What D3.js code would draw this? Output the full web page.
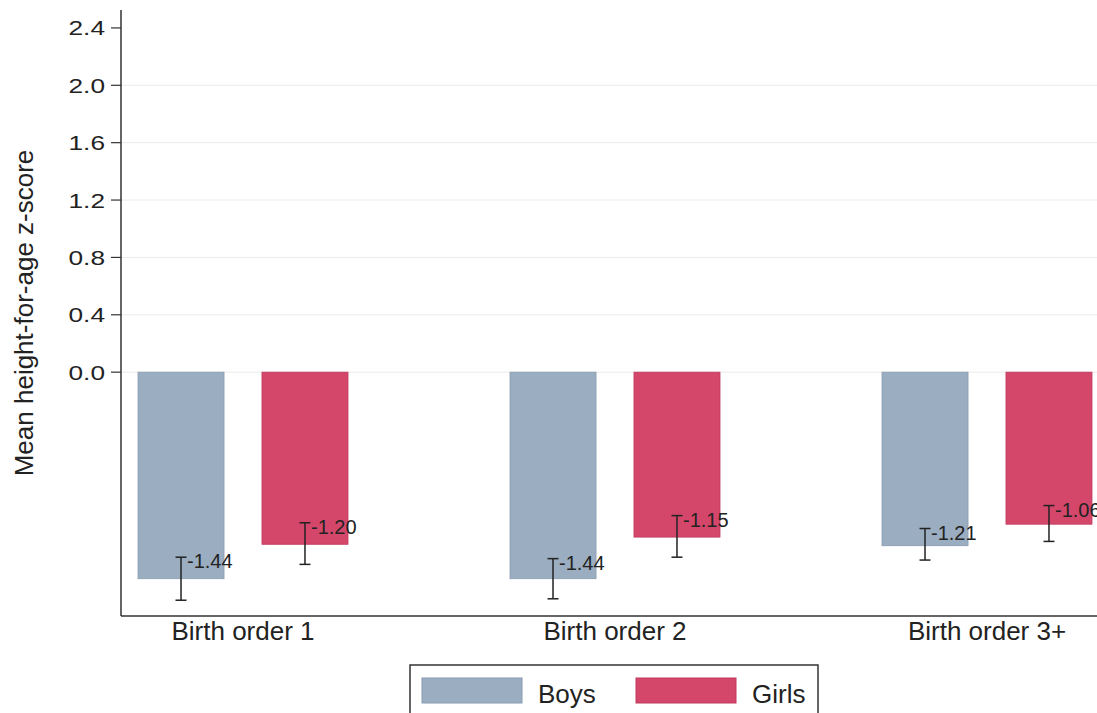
<!DOCTYPE html>
<html>
<head>
<meta charset="utf-8">
<script src="https://cdn.jsdelivr.net/npm/d3@7"></script>
<style>
  body { margin: 0; background: #fff; }
  text { font-family: "Liberation Sans", Arial, Helvetica, sans-serif; fill: #222; }
</style>
</head>
<body>
<svg></svg>
<script>
const width = 1097;
const height = 713;

const categories = ["Birth order 1", "Birth order 2", "Birth order 3+"];
const groups = ["Boys", "Girls"];
const boysMean = [-1.44, -1.44, -1.21];
const girlsMean = [-1.20, -1.15, -1.06];
const boysHi = [-1.29, -1.30, -1.09];
const boysLo = [-1.59, -1.58, -1.31];
const girlsHi = [-1.05, -1.00, -0.93];
const girlsLo = [-1.34, -1.29, -1.18];
const yTicks = [0, 0.4, 0.8, 1.2, 1.6, 2.0, 2.4];
const gridTicks = [0, 0.4, 0.8, 1.2, 1.6, 2.0];

const colors = { Boys: "#9badc0", Girls: "#d4476b" };
const strokes = { Boys: "#8a9cb0", Girls: "#c03a5c" };

const rows = [];
categories.forEach((c, i) => {
  rows.push({ cat: c, group: "Boys", mean: boysMean[i], hi: boysHi[i], lo: boysLo[i] });
  rows.push({ cat: c, group: "Girls", mean: girlsMean[i], hi: girlsHi[i], lo: girlsLo[i] });
});

const svg = d3.select('svg')
  .attr('width', width)
  .attr('height', height)

const axisX = 121;
const y = d3.scaleLinear().domain([-1.70, 2.525]).range([616, 10]);
const x0 = d3.scaleBand().domain(categories).range([57, 1173]);
const x1 = d3.scaleBand().domain(groups).range([81, 291]).paddingInner(0.306);

// grid
svg.append('g')
  .selectAll('line')
  .data(gridTicks)
  .join('line')
    .attr('x1', axisX).attr('x2', width)
    .attr('y1', d => y(d)).attr('y2', d => y(d))
    .attr('stroke', '#ebebeb')
    .attr('stroke-width', 1)

// bars
svg.append('g')
  .selectAll('rect')
  .data(rows)
  .join('rect')
    .attr('x', d => x0(d.cat) + x1(d.group))
    .attr('width', x1.bandwidth())
    .attr('y', y(0))
    .attr('height', d => y(d.mean) - y(0))
    .attr('fill', d => colors[d.group])
    .attr('stroke', d => strokes[d.group])
    .attr('stroke-width', 0.8)

// error bars
const cx = d => x0(d.cat) + x1(d.group) + x1.bandwidth() / 2;
const eb = svg.append('g')
  .attr('stroke', '#222')
  .attr('stroke-width', 1.5)
  .selectAll('g')
  .data(rows)
  .join('g')
eb.append('line')
  .attr('x1', cx).attr('x2', cx)
  .attr('y1', d => y(d.hi)).attr('y2', d => y(d.lo))
eb.append('line')
  .attr('x1', d => cx(d) - 5.5).attr('x2', d => cx(d) + 5.5)
  .attr('y1', d => y(d.hi)).attr('y2', d => y(d.hi))
eb.append('line')
  .attr('x1', d => cx(d) - 5.5).attr('x2', d => cx(d) + 5.5)
  .attr('y1', d => y(d.lo)).attr('y2', d => y(d.lo))

// value labels
svg.append('g')
  .selectAll('text')
  .data(rows)
  .join('text')
    .attr('x', d => cx(d) + 6)
    .attr('y', d => y(d.hi) + 11)
    .attr('font-size', 20)
    .text(d => d.mean.toFixed(2))

// axes lines
svg.append('line')
  .attr('x1', axisX).attr('x2', axisX)
  .attr('y1', 10).attr('y2', 616)
  .attr('stroke', '#333').attr('stroke-width', 1.5)
svg.append('line')
  .attr('x1', axisX).attr('x2', width)
  .attr('y1', 616).attr('y2', 616)
  .attr('stroke', '#333').attr('stroke-width', 1.5)

// y ticks
const yt = svg.append('g')
  .selectAll('g')
  .data(yTicks)
  .join('g')
    .attr('transform', d => `translate(0,${y(d)})`)
yt.append('line')
  .attr('x1', 111).attr('x2', axisX)
  .attr('stroke', '#333').attr('stroke-width', 1.2)
yt.append('text')
  .attr('transform', 'translate(105,7.5) scale(1.25,1)')
  .attr('text-anchor', 'end')
  .attr('font-size', 21)
  .text(d => d.toFixed(1))

// y title
svg.append('text')
  .attr('transform', 'translate(33,313) rotate(-90)')
  .attr('text-anchor', 'middle')
  .attr('font-size', 26)
  .text('Mean height-for-age z-score')

// category labels
svg.append('g')
  .selectAll('text')
  .data(categories)
  .join('text')
    .attr('x', d => x0(d) + x0.bandwidth() / 2)
    .attr('y', 640)
    .attr('text-anchor', 'middle')
    .attr('font-size', 26)
    .text(d => d)

// legend
const legend = svg.append('g').attr('transform', 'translate(410,665)')
legend.append('rect')
  .attr('width', 408).attr('height', 70)
  .attr('fill', '#fff')
  .attr('stroke', '#333').attr('stroke-width', 1.5)
const item = legend.selectAll('g')
  .data(groups)
  .join('g')
    .attr('transform', (d, i) => `translate(${12 + i * 214},13)`)
item.append('rect')
  .attr('width', 100).attr('height', 25)
  .attr('fill', d => colors[d])
  .attr('stroke', d => strokes[d])
item.append('text')
  .attr('x', 116).attr('y', 25)
  .attr('font-size', 26)
  .text(d => d)
</script>
</body>
</html>
